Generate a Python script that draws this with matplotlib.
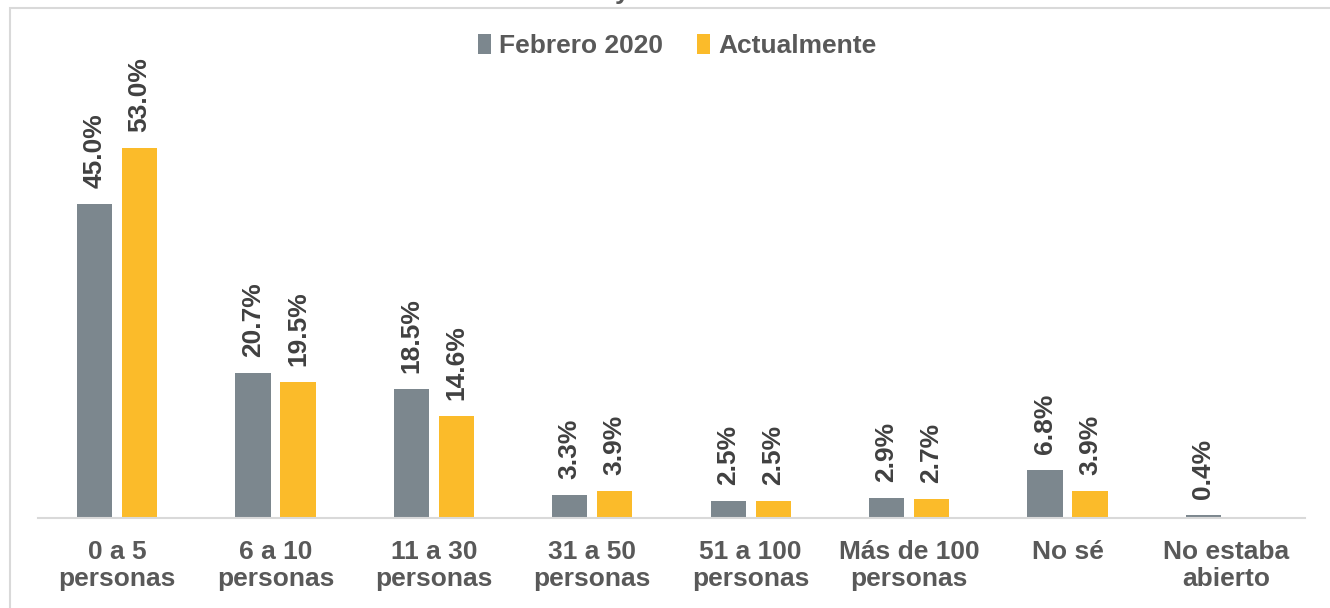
import numpy as np
import matplotlib
matplotlib.use("Agg")
import matplotlib.pyplot as plt
from matplotlib.patches import Rectangle

plt.rcParams["font.family"] = ["Liberation Sans", "DejaVu Sans"]

# data
categories = ["0 a 5\npersonas", "6 a 10\npersonas", "11 a 30\npersonas",
              "31 a 50\npersonas", "51 a 100\npersonas", "Más de 100\npersonas",
              "No sé", "No estaba\nabierto"]
febrero_2020 = [45.0, 20.7, 18.5, 3.3, 2.5, 2.9, 6.8, 0.4]
actualmente = [53.0, 19.5, 14.6, 3.9, 2.5, 2.7, 3.9, None]
series_names = ["Febrero 2020", "Actualmente"]

GRAY = "#7c878e"
YELLOW = "#fbbb2a"
TXT = "#595959"
LBL = "#404040"

fig = plt.figure(figsize=(13.3, 6.08), dpi=100)
ax = fig.add_axes([38 / 1330, 90 / 608, 1267 / 1330, 489 / 608])

x = np.arange(len(categories))
w = 0.222
off = 0.142
series = [(febrero_2020, GRAY, -off), (actualmente, YELLOW, off)]
for (vals, col, dx), name in zip(series, series_names):
    xs = [xi + dx for xi, v in zip(x, vals) if v is not None]
    vs = [v for v in vals if v is not None]
    bars = ax.bar(xs, vs, width=w, color=col, label=name, zorder=2)
    for b, v in zip(bars, vs):
        ax.annotate(f"{v:.1f}%", (b.get_x() + b.get_width() / 2, b.get_height()),
                    xytext=(0, 16), textcoords="offset pixels",
                    rotation=90, ha="center", va="bottom",
                    fontsize=19, fontweight="bold", color=LBL)

ax.set_xlim(-0.5, len(categories) - 0.5)
ax.set_ylim(0, 70)
ax.set_xticks(x)
ax.set_xticklabels(categories, fontsize=19, fontweight="bold", color=TXT,
                   linespacing=1.15, va="top")
ax.tick_params(axis="x", length=0, pad=16)
ax.set_yticks([])
for s in ["top", "right", "left"]:
    ax.spines[s].set_visible(False)
ax.spines["bottom"].set_color("#d9d9d9")
ax.spines["bottom"].set_linewidth(1.5)

leg = fig.legend(loc="center", bbox_to_anchor=(677 / 1330, 1 - 46 / 608),
                 ncol=2, frameon=False, handlelength=0.5, handleheight=0.8,
                 handletextpad=0.3, columnspacing=1.3,
                 prop={"size": 19, "weight": "bold"})
for t in leg.get_texts():
    t.set_color(TXT)

# outer chart frame
fig.patches.append(Rectangle((10 / 1330, -0.1), 1.1, 1.1 - 8 / 608,
                             transform=fig.transFigure, fill=False,
                             edgecolor="#d9d9d9", linewidth=1.5, zorder=0))
# clipped title fragment at the very top (cut off in the reference too)
fig.text(622 / 1330, 1 + 1 / 608, "y", ha="center", va="baseline",
         fontsize=19, fontweight="bold", color=TXT)

fig.savefig("out.png", dpi=100)
